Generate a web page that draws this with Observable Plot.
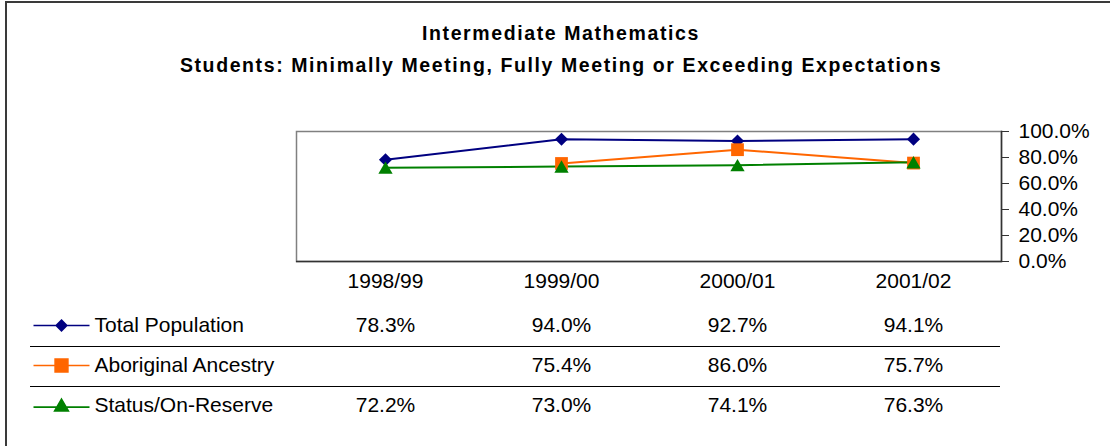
<!DOCTYPE html>
<html><head><meta charset="utf-8">
<script src="https://cdn.jsdelivr.net/npm/d3@7"></script>
<script src="https://cdn.jsdelivr.net/npm/@observablehq/plot@0.6"></script>
<style>
body{margin:0;background:#fff;}
#wrap{position:relative;width:1110px;height:446px;overflow:hidden;font-family:"Liberation Sans",Arial,sans-serif;background:#fff;}
#border{position:absolute;left:5px;top:1px;width:1300px;height:700px;border-left:2px solid #3a3a3a;border-top:2px solid #3a3a3a;}
.t{position:absolute;left:0;width:1122px;text-align:center;font-weight:bold;font-size:19.5px;line-height:19.5px;letter-spacing:1.6px;color:#000;white-space:nowrap;z-index:2;}
#chart,#table{position:absolute;left:0;}
#chart{top:0;} #table{top:300px;}
</style></head>
<body><div id="wrap"><div id="border"></div>
<div class="t" style="top:23.5px">Intermediate Mathematics</div>
<div class="t" style="top:55.5px">Students: Minimally Meeting, Fully Meeting or Exceeding Expectations</div>
<div id="chart"></div><div id="table"></div>
</div>
<script>
const years = ["1998/99", "1999/00", "2000/01", "2001/02"];
const seriesNames = ["Total Population", "Aboriginal Ancestry", "Status/On-Reserve"];
const totalPopulation = [0.783, 0.940, 0.927, 0.941];
const aboriginalAncestry = [null, 0.754, 0.860, 0.757];
const statusOnReserve = [0.722, 0.730, 0.741, 0.763];
const colors = ["#000080", "#FF6600", "#008000"];
const yTicks = [0, 0.2, 0.4, 0.6, 0.8, 1.0];

const valuesBySeries = [totalPopulation, aboriginalAncestry, statusOnReserve];
const rows = [];
seriesNames.forEach((s, i) => years.forEach((y, j) => rows.push({series: s, year: y, value: valuesBySeries[i][j]})));
const bySeries = s => rows.filter(d => d.series === s);

const symbols = [d3.symbolDiamond2, d3.symbolSquare, d3.symbolTriangle];
const radii = [5.9, 7.2, 5.3];
const dys = [0, 0, 2];
const fmt = d3.format(".1%");
const font = '"Liberation Sans", Arial, sans-serif';

const chartMarks = [
  Plot.frame({stroke: "#808080", strokeWidth: 1.5}),
  Plot.ruleY([0], {stroke: "#333", strokeWidth: 1.5}),
  Plot.frame({anchor: "right", stroke: "#333", strokeWidth: 1.5}),
  Plot.axisX({tickSize: 0, tickPadding: 12, fontSize: 21, fill: "#000"}),
  Plot.axisY({anchor: "right", ticks: yTicks, tickSize: 7, tickPadding: 10, tickFormat: fmt, fontSize: 21, fill: "#000", stroke: "#333"})
];
seriesNames.forEach((s, i) => {
  chartMarks.push(Plot.line(bySeries(s), {x: "year", y: "value", stroke: colors[i], strokeWidth: 2}));
});
seriesNames.forEach((s, i) => {
  chartMarks.push(Plot.dot(bySeries(s).filter(d => d.value != null), {x: "year", y: "value", symbol: symbols[i], r: radii[i], fill: colors[i], stroke: "none", dy: dys[i]}));
});

const chart = Plot.plot({
  width: 1110, height: 300,
  marginTop: 131, marginBottom: 39, marginLeft: 296, marginRight: 109,
  x: {type: "point", domain: years, padding: 0.5, label: null},
  y: {domain: [0, 1], label: null},
  style: {fontFamily: font, fontSize: "21px", background: "none", color: "#000"},
  marks: chartMarks
});
document.getElementById("chart").append(chart);

function withLine(sym, half) {
  return {draw(ctx, size) { sym.draw(ctx, size); ctx.moveTo(-half, 0); ctx.lineTo(half, 0); }};
}
const legendRadii = [4.8, 7.2, 5.1];
const tableMarks = [
  Plot.ruleY(seriesNames.slice(1), {y: d => d, dy: -19, stroke: "#000", strokeWidth: 1}),
  Plot.text(rows.filter(d => d.value != null), {x: "year", y: "series", text: d => fmt(d.value), fontSize: 21, fill: "#000"}),
  Plot.text(seriesNames, {y: d => d, text: d => d, frameAnchor: "left", dx: 64, textAnchor: "start", fontSize: 21, fill: "#000"})
];
seriesNames.forEach((s, i) => {
  tableMarks.push(Plot.dot([s], {y: d => d, frameAnchor: "left", dx: 31, symbol: withLine(symbols[i], 28), r: legendRadii[i], fill: colors[i], stroke: colors[i], strokeWidth: 1.6, dy: dys[i] * 0.8}));
});
const table = Plot.plot({
  width: 1110, height: 146,
  marginTop: 0, marginBottom: 0, marginLeft: 30, marginRight: 110,
  x: {type: "point", domain: years, range: [296, 1001], padding: 0.5, axis: null},
  y: {type: "point", domain: seriesNames, range: [24, 105], padding: 0, axis: null},
  style: {fontFamily: font, fontSize: "21px", background: "none", color: "#000"},
  marks: tableMarks
});
document.getElementById("table").append(table);
</script>
</body></html>
